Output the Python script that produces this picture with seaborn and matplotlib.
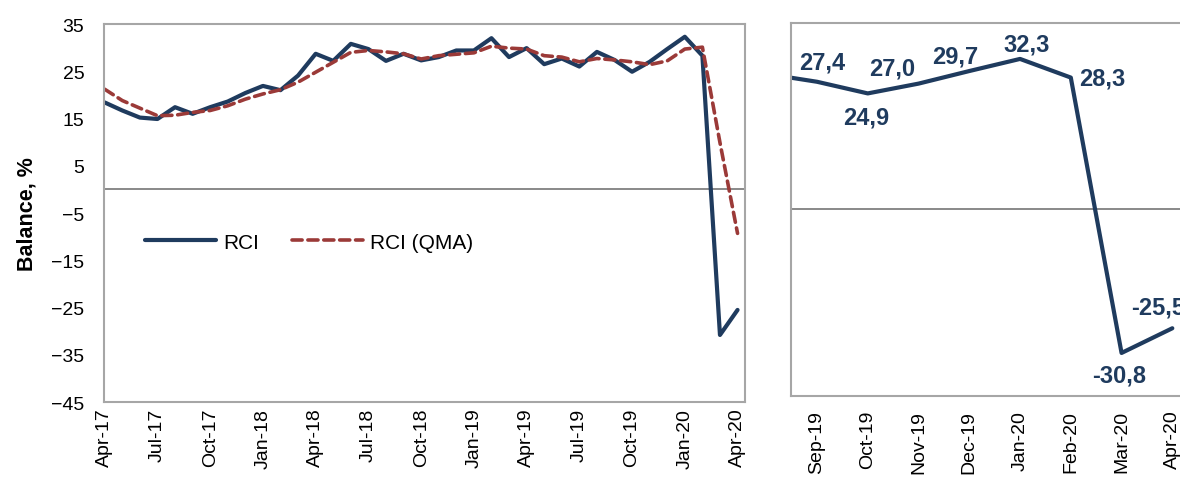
import pandas as pd
import matplotlib
matplotlib.use('Agg')
import matplotlib.pyplot as plt
import seaborn as sns

# Monthly retail confidence indicator, Apr-17 .. Apr-20
months = pd.date_range('2017-04-01', '2020-04-01', freq='MS')
rci = [18.4, 16.7, 15.2, 14.9, 17.4, 16.0, 17.4, 18.6, 20.4, 21.9, 21.0, 24.1,
       28.7, 27.2, 30.8, 29.7, 27.2, 28.7, 27.3, 28.0, 29.4, 29.4, 32.0, 28.0,
       29.9, 26.5, 27.7, 26.0, 29.1, 27.4, 24.9, 27.0, 29.7, 32.3, 28.3, -30.8,
       -25.5]
rci_qma = [21.2, 18.8, 17.2, 15.6, 15.7, 16.3, 16.7, 17.7, 19.1, 20.2, 21.1, 22.7,
           24.8, 26.9, 29.0, 29.4, 29.1, 28.7, 27.6, 28.3, 28.6, 28.9, 30.3, 29.9,
           29.7, 28.3, 28.0, 27.0, 27.7, 27.4, 27.0, 26.4, 27.2, 29.7, 30.1, 9.9,
           -9.3]

# Zoomed panel: Aug-19 (clipped at the left edge) .. Apr-20
zoom_months = ['Aug-19', 'Sep-19', 'Oct-19', 'Nov-19', 'Dec-19', 'Jan-20',
               'Feb-20', 'Mar-20', 'Apr-20']
zoom_rci = rci[-9:]
# label offsets (points) for the data labels, Sep-19 .. Apr-20
label_offsets = [(4, 14), (-1, -17), (-19, 11), (-10, 11), (5, 11),
                 (23, 0), (-2, -16), (-10, 15)]

NAVY = '#1F3B5E'
RED = '#9B3A38'
GREY = '#A6A6A6'

sns.set_theme(style='white')
plt.rcParams['font.family'] = ['Liberation Sans', 'DejaVu Sans']
plt.rcParams['text.color'] = 'black'
plt.rcParams['xtick.color'] = 'black'
plt.rcParams['ytick.color'] = 'black'
plt.rcParams['axes.labelcolor'] = 'black'

fig = plt.figure(figsize=(11.8, 4.81), dpi=100)
ax1 = fig.add_axes([0.088, 0.162, 0.543, 0.786])
ax2 = fig.add_axes([0.670, 0.175, 0.345, 0.775])

# ---- left panel
df = pd.DataFrame({'x': range(len(months)), 'RCI': rci, 'QMA': rci_qma})
ax1.axhline(0, color='#808080', lw=1.3, zorder=1)
sns.lineplot(data=df, x='x', y='RCI', ax=ax1, color=NAVY, lw=3.0,
             label='RCI', solid_joinstyle='round', solid_capstyle='round')
sns.lineplot(data=df, x='x', y='QMA', ax=ax1, color=RED, lw=2.6,
             label='RCI (QMA)', dashes=False)
ax1.lines[-1].set_dashes((2.8, 1.6))
ax1.lines[-1].set_dash_capstyle('round')

ax1.set_xlim(-0.05, 36.4)
ax1.set_ylim(-45, 35)
ax1.set_yticks(range(-45, 36, 10))
tick_pos = list(range(0, len(months), 3))
ax1.set_xticks(tick_pos)
ax1.set_xticklabels([months[i].strftime('%b-%y') for i in tick_pos],
                    rotation=90, fontsize=14)
ax1.tick_params(axis='y', labelsize=14, pad=14, length=0)
ax1.tick_params(axis='x', pad=4, length=0)
ax1.set_xlabel('')
ax1.set_ylabel('Balance, %', fontsize=15.5, fontweight='bold', labelpad=10)
ax1.legend(loc='center left', bbox_to_anchor=(0.064, 0.423), ncol=2,
           frameon=False, fontsize=15, handlelength=3.4, handletextpad=0.35,
           columnspacing=1.6, borderpad=0, borderaxespad=0)
for sp in ax1.spines.values():
    sp.set_color(GREY)
    sp.set_linewidth(1.5)

# ---- right panel
zdf = pd.DataFrame({'x': range(-1, len(zoom_months) - 1), 'RCI': zoom_rci})
ax2.axhline(0, color='#808080', lw=1.3, zorder=1)
sns.lineplot(data=zdf, x='x', y='RCI', ax=ax2, color=NAVY, lw=3.0,
             solid_joinstyle='round', solid_capstyle='round')
for (xi, v), (dx, dy) in zip(zip(zdf['x'][1:], zdf['RCI'][1:]), label_offsets):
    ax2.annotate(f'{v:.1f}'.replace('.', ','), (xi, v), xytext=(dx, dy),
                 textcoords='offset points', ha='center', va='center',
                 fontsize=17, fontweight='bold', color=NAVY,
                 annotation_clip=False)
ax2.set_xlim(-0.52, 7.5)
ax2.set_ylim(-40, 40)
ax2.set_yticks([])
ax2.set_xticks(range(len(zoom_months) - 1))
ax2.set_xticklabels(zoom_months[1:], rotation=90, fontsize=14)
ax2.tick_params(axis='x', pad=10, length=0)
ax2.set_xlabel('')
ax2.set_ylabel('')
for sp in ax2.spines.values():
    sp.set_color(GREY)
    sp.set_linewidth(1.5)

fig.savefig('out.png', dpi=100)
